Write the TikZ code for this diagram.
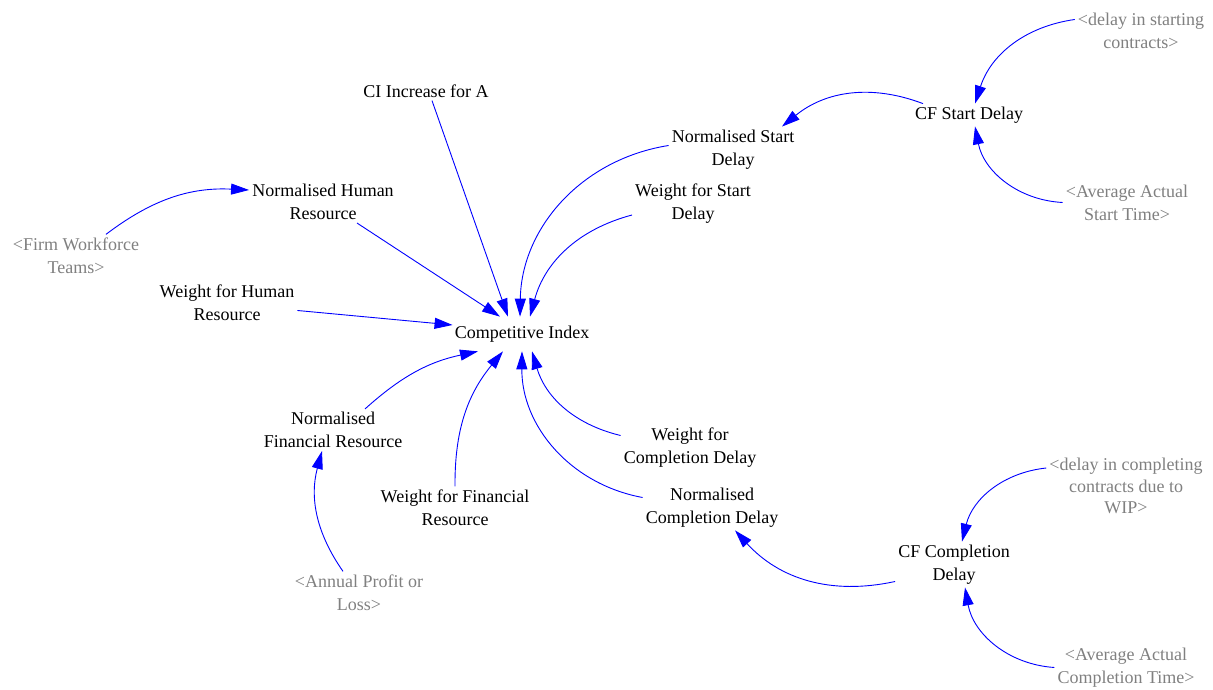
\documentclass[tikz,border=0pt]{standalone}
\usepackage{fontspec}
\setmainfont{Liberation Serif}
\usetikzlibrary{arrows.meta,calc}

\tikzset{
  var/.style={align=center,inner sep=3pt,yshift=-2pt,font=\fontsize{18}{23}\selectfont},
  shadowvar/.style={var,text=gray},
  link/.style={draw=blue,line width=0.9pt,-{Triangle[length=18pt,width=11pt]}}
}

\begin{document}
\begin{tikzpicture}[x=1pt,y=1pt]
  \useasboundingbox (0,0) rectangle (1213,690);
  %CENTRE
  \node[var,inner xsep=2pt,inner ysep=9pt] (ci) at (522,358) {Competitive Index};
  %LEFT SIDE
  \node[var] (ciA) at (426,601) {CI Increase for A};
  \node[var] (nhr) at (323,490) {Normalised Human\\Resource};
  \node[shadowvar] (fwt) at (76,436.5) {<Firm Workforce\\Teams>};
  \node[var] (whr) at (227,389.5) {Weight for Human\\Resource};
  \node[var] (nfr) at (333,262) {Normalised\\Financial Resource};
  \node[shadowvar] (apl) at (359,99.5) {<Annual Profit or\\Loss>};
  \node[var] (wfr) at (455,184.5) {Weight for Financial\\Resource};
  %RIGHT SIDE, START
  \node[var] (nsd) at (733,542.5) {Normalised Start\\Delay};
  \node[var] (wsd) at (693,488) {Weight for Start\\Delay};
  \node[var] (cfs) at (969,577) {CF Start Delay};
  \node[shadowvar] (dsc) at (1141,661.5) {<delay in starting\\contracts>};
  \node[shadowvar] (aast) at (1127,489.5) {<Average Actual\\Start Time>};
  %RIGHT SIDE, COMPLETION
  \node[var] (wcd) at (690,244.5) {Weight for\\Completion Delay};
  \node[var] (ncd) at (712,184.5) {Normalised\\Completion Delay};
  \node[var] (cfc) at (954,127.5) {CF Completion\\Delay};
  \node[shadowvar,font=\fontsize{18}{21.5}\selectfont] (dcc) at (1126,206) {<delay in completing\\contracts due to\\WIP>};
  \node[shadowvar] (aact) at (1126,24.5) {<Average Actual\\Completion Time>};
  %LINKS INTO CI
  \draw[link] ([xshift=6pt]ciA.south) -- ([xshift=-14pt]ci.north);
  \draw[link] ([xshift=34pt]nhr.south) -- ([xshift=-22pt]ci.north);
  \draw[link] ([yshift=-8pt]whr.east) -- ([yshift=9pt]ci.west);
  \draw[link] ([xshift=32pt]nfr.north) to[bend left=15] ([xshift=-44pt]ci.south);
  \draw[link] (wfr.north) to[bend left=20] ([xshift=-19pt]ci.south);
  \draw[link] ([yshift=10pt]ncd.west) to[bend left=40] (ci.south);
  \draw[link] ([yshift=12pt]wcd.west) to[bend left=30] ([xshift=10pt]ci.south);
  \draw[link] ([yshift=4pt]nsd.west) to[bend right=40] ([xshift=-2pt]ci.north);
  \draw[link] ([yshift=-11pt]wsd.west) to[bend right=30] ([xshift=8pt]ci.north);
  %OTHER LINKS
  \draw[link] ([xshift=30pt]fwt.north) to[bend left=20] ([yshift=12pt]nhr.west);
  \draw[link] ([xshift=-16pt]apl.north) to[bend left=25] ([xshift=-11pt]nfr.south);
  \draw[link] ([xshift=-46pt]cfs.north) to[bend right=30] ([xshift=49pt]nsd.north);
  \draw[link] ([yshift=11pt]dsc.west) to[bend right=32] ([xshift=6pt]cfs.north);
  \draw[link] (aast.west) to[bend left=38] ([xshift=6pt]cfs.south);
  \draw[link] ([yshift=-17pt]cfc.west) to[bend left=30] ([xshift=23pt]ncd.south);
  \draw[link] ([yshift=18pt]dcc.west) to[bend right=35] ([xshift=8pt]cfc.north);
  \draw[link] (aact.west) to[bend left=38] ([xshift=11pt]cfc.south);
\end{tikzpicture}
\end{document}
